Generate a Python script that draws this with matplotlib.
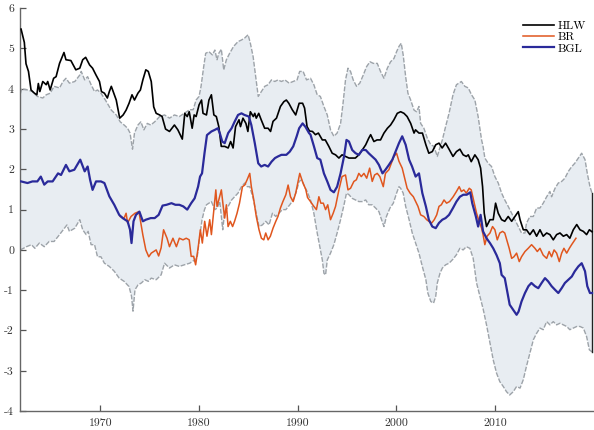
import numpy as np
import matplotlib
matplotlib.use("Agg")
import matplotlib.pyplot as plt

plt.rcParams['font.family'] = ['cmr10', 'DejaVu Serif']
plt.rcParams['mathtext.fontset'] = 'cm'
plt.rcParams['axes.unicode_minus'] = False

# natural rate estimates (percent), read at irregular dates
hlw_t = [1961.95, 1962.28, 1962.45, 1962.7, 1962.96, 1963.3, 1963.55, 1963.7, 1963.85, 1964.15,
         1964.5, 1964.65, 1964.9, 1965.25, 1965.5, 1965.85, 1966.3, 1966.5, 1967.0, 1967.5,
         1967.9, 1968.2, 1968.5, 1968.9, 1969.2, 1969.55, 1969.9, 1970.1, 1970.4, 1970.7,
         1970.9, 1971.1, 1971.35, 1971.6, 1971.95, 1972.3, 1972.6, 1972.9, 1973.2, 1973.45,
         1973.8, 1974.05, 1974.3, 1974.6, 1974.85, 1975.15, 1975.4, 1975.65, 1976.0, 1976.25,
         1976.6, 1977.0, 1977.5, 1977.85, 1978.3, 1978.55, 1978.8, 1979.0, 1979.3, 1979.5,
         1979.7, 1980.0, 1980.25, 1980.4, 1980.75, 1981.0, 1981.25, 1981.5, 1981.75, 1982.0,
         1982.25, 1982.6, 1982.95, 1983.2, 1983.45, 1983.7, 1984.05, 1984.2, 1984.45, 1984.75,
         1984.95, 1985.2, 1985.5, 1985.65, 1985.8, 1986.05, 1986.3, 1986.65, 1987.0, 1987.25,
         1987.5, 1987.85, 1988.25, 1988.6, 1988.85, 1989.1, 1989.45, 1989.8, 1990.15, 1990.5,
         1990.7, 1990.95, 1991.2, 1991.5, 1991.8, 1992.1, 1992.5, 1992.8, 1993.16, 1993.5,
         1993.84, 1994.18, 1994.5, 1994.85, 1995.2, 1995.55, 1995.85, 1996.2, 1996.55, 1996.9,
         1997.2, 1997.4, 1997.73, 1998.05, 1998.4, 1998.75, 1999.1, 1999.42, 1999.76, 2000.1,
         2000.44, 2000.78, 2001.1, 2001.46, 2001.8, 2001.95, 2002.3, 2002.65, 2003.0, 2003.3,
         2003.65, 2004.0, 2004.33, 2004.65, 2005.0, 2005.35, 2005.75, 2006.1, 2006.45, 2006.78,
         2007.1, 2007.3, 2007.6, 2007.97, 2008.3, 2008.55, 2008.75, 2008.92, 2009.15, 2009.5,
         2009.83, 2010.07, 2010.34, 2010.68, 2011.0, 2011.35, 2011.7, 2012.03, 2012.37, 2012.55,
         2012.88, 2013.2, 2013.55, 2013.9, 2014.23, 2014.57, 2014.9, 2015.25, 2015.58, 2015.92,
         2016.26, 2016.6, 2016.94, 2017.28, 2017.6, 2017.95, 2018.3, 2018.63, 2018.97, 2019.3,
         2019.58, 2019.85]
hlw_v = [5.48, 5.15, 4.62, 4.43, 3.97, 3.89, 3.85, 4.13, 3.93, 4.18,
         4.10, 4.18, 3.97, 4.26, 4.30, 4.63, 4.90, 4.72, 4.70, 4.47,
         4.51, 4.72, 4.78, 4.59, 4.51, 4.34, 4.18, 3.93, 3.89, 3.77,
         3.93, 4.06, 3.89, 3.72, 3.27, 3.35, 3.47, 3.64, 3.85, 3.72,
         3.89, 3.97, 4.22, 4.47, 4.43, 4.18, 3.55, 3.39, 3.35, 3.31,
         3.00, 2.94, 3.10, 2.98, 2.75, 3.39, 3.31, 3.43, 3.02, 3.35,
         3.31, 3.60, 3.72, 3.39, 3.35, 3.72, 3.85, 3.35, 3.31, 3.06,
         2.57, 2.57, 2.53, 2.69, 2.53, 3.06, 3.23, 3.06, 3.27, 3.14,
         2.94, 3.43, 3.31, 3.39, 3.27, 3.39, 3.23, 3.02, 3.02, 2.94,
         3.19, 3.27, 3.56, 3.68, 3.72, 3.64, 3.48, 3.35, 3.64, 3.64,
         3.52, 3.06, 2.95, 2.94, 2.86, 2.90, 2.73, 2.73, 2.57, 2.40,
         2.36, 2.28, 2.36, 2.32, 2.28, 2.28, 2.28, 2.36, 2.48, 2.61,
         2.77, 2.86, 2.69, 2.73, 2.73, 2.90, 3.02, 3.10, 3.23, 3.39,
         3.43, 3.39, 3.31, 3.14, 2.90, 2.98, 2.90, 2.90, 2.61, 2.40,
         2.44, 2.61, 2.65, 2.53, 2.65, 2.50, 2.32, 2.44, 2.50, 2.36,
         2.32, 2.36, 2.19, 2.36, 2.24, 2.03, 1.57, 0.91, 0.58, 0.75,
         0.75, 1.16, 0.91, 0.75, 0.71, 0.83, 0.71, 0.83, 0.95, 0.75,
         0.50, 0.50, 0.38, 0.50, 0.34, 0.50, 0.34, 0.42, 0.38, 0.25,
         0.38, 0.42, 0.34, 0.38, 0.29, 0.50, 0.63, 0.50, 0.46, 0.38,
         0.50, 0.45]

br_t = [1972.0, 1972.4, 1972.6, 1972.75, 1973.1, 1973.5, 1973.9, 1974.3, 1974.6, 1974.9,
        1975.15, 1975.4, 1975.65, 1975.9, 1976.15, 1976.4, 1976.75, 1977.0, 1977.35, 1977.7,
        1978.0, 1978.37, 1978.7, 1979.0, 1979.2, 1979.45, 1979.65, 1979.9, 1980.13, 1980.33,
        1980.57, 1980.8, 1981.08, 1981.25, 1981.5, 1981.7, 1981.82, 1982.0, 1982.26, 1982.45,
        1982.6, 1982.77, 1982.94, 1983.17, 1983.4, 1983.6, 1983.85, 1984.1, 1984.4, 1984.63,
        1984.87, 1985.14, 1985.3, 1985.55, 1985.8, 1986.08, 1986.32, 1986.56, 1986.76, 1987.0,
        1987.23, 1987.5, 1987.78, 1988.0, 1988.25, 1988.5, 1988.8, 1989.03, 1989.27, 1989.54,
        1989.8, 1990.04, 1990.21, 1990.48, 1990.82, 1991.0, 1991.3, 1991.64, 1991.9, 1992.15,
        1992.35, 1992.6, 1992.83, 1993.05, 1993.33, 1993.6, 1993.84, 1994.18, 1994.5, 1994.85,
        1995.1, 1995.36, 1995.7, 1995.95, 1996.2, 1996.45, 1996.72, 1997.0, 1997.3, 1997.56,
        1997.8, 1998.07, 1998.33, 1998.68, 1998.9, 1999.25, 1999.5, 1999.76, 2000.03, 2000.27,
        2000.6, 2000.85, 2001.1, 2001.4, 2001.73, 2001.96, 2002.2, 2002.47, 2002.8, 2003.08,
        2003.3, 2003.6, 2003.85, 2004.1, 2004.33, 2004.57, 2004.84, 2005.1, 2005.4, 2005.77,
        2006.1, 2006.38, 2006.6, 2006.85, 2007.1, 2007.4, 2007.6, 2007.87, 2008.14, 2008.4,
        2008.65, 2008.8, 2008.98, 2009.2, 2009.5, 2009.76, 2010.0, 2010.24, 2010.5, 2010.78,
        2011.0, 2011.2, 2011.45, 2011.7, 2011.93, 2012.2, 2012.47, 2012.7, 2013.05, 2013.38,
        2013.72, 2014.06, 2014.3, 2014.57, 2014.9, 2015.25, 2015.5, 2015.75, 2016.0, 2016.26,
        2016.53, 2016.77, 2017.0, 2017.28, 2017.55, 2017.78, 2018.0, 2018.22]
br_v = [0.83, 0.79, 0.91, 0.67, 0.83, 0.91, 0.95, 0.37, 0.00, -0.17,
        -0.08, -0.04, 0.00, -0.15, 0.05, 0.50, 0.29, 0.08, 0.29, 0.08,
        0.29, 0.25, 0.29, 0.25, -0.16, -0.16, -0.37, 0.04, 0.50, 0.17,
        0.71, 0.34, 0.75, 0.38, 1.00, 1.49, 1.08, 1.24, 1.49, 1.08,
        0.79, 1.12, 0.58, 0.71, 0.58, 0.71, 0.91, 1.16, 1.57, 1.61,
        1.74, 1.90, 1.57, 1.24, 0.83, 0.50, 0.29, 0.25, 0.42, 0.25,
        0.34, 0.54, 0.71, 0.83, 1.04, 1.20, 1.37, 1.61, 1.32, 1.20,
        1.41, 1.70, 1.90, 1.70, 1.50, 1.30, 1.20, 1.08, 1.00, 1.32,
        1.16, 1.16, 1.00, 1.12, 0.75, 0.91, 1.08, 1.49, 1.82, 1.86,
        1.49, 1.53, 1.70, 1.74, 1.90, 1.82, 1.90, 1.78, 2.03, 1.70,
        1.86, 1.90, 1.82, 1.57, 1.90, 1.99, 2.15, 2.32, 2.40, 2.20,
        2.03, 1.78, 1.53, 1.41, 1.32, 1.20, 1.08, 0.87, 0.83, 0.75,
        0.71, 0.67, 0.75, 0.87, 1.08, 1.12, 1.24, 1.16, 1.20, 1.32,
        1.45, 1.57, 1.45, 1.49, 1.41, 1.53, 1.49, 1.20, 0.91, 0.71,
        0.54, 0.38, 0.13, 0.34, 0.42, 0.58, 0.50, 0.25, 0.42, 0.46,
        0.42, 0.25, 0.04, -0.21, -0.17, -0.08, -0.29, -0.17, -0.04, 0.04,
        0.13, 0.04, -0.04, 0.04, -0.13, -0.21, -0.04, -0.17, 0.00, -0.08,
        -0.29, -0.08, 0.04, -0.08, 0.04, 0.13, 0.21, 0.29]

bgl_t = [1961.95, 1962.6, 1963.1, 1963.6, 1963.95, 1964.3, 1964.65, 1965.15, 1965.7, 1966.0,
         1966.5, 1966.85, 1967.35, 1967.95, 1968.4, 1968.7, 1968.95, 1969.2, 1969.55, 1970.05,
         1970.4, 1970.9, 1971.4, 1971.9, 1972.25, 1972.75, 1973.0, 1973.15, 1973.35, 1973.6,
         1973.95, 1974.3, 1974.6, 1975.1, 1975.5, 1975.9, 1976.3, 1976.7, 1977.2, 1977.6,
         1978.0, 1978.4, 1978.8, 1979.2, 1979.55, 1979.9, 1980.1, 1980.3, 1980.55, 1980.8,
         1981.25, 1981.6, 1981.9, 1982.1, 1982.35, 1982.6, 1982.95, 1983.3, 1983.6, 1983.95,
         1984.3, 1984.6, 1985.05, 1985.3, 1985.65, 1986.0, 1986.3, 1986.65, 1987.0, 1987.35,
         1987.7, 1988.0, 1988.35, 1988.85, 1989.2, 1989.55, 1989.9, 1990.15, 1990.5, 1990.8,
         1991.15, 1991.3, 1991.65, 1991.98, 1992.3, 1992.66, 1993.0, 1993.33, 1993.67, 1994.0,
         1994.35, 1994.7, 1994.95, 1995.2, 1995.53, 1995.87, 1996.2, 1996.55, 1996.9, 1997.2,
         1997.55, 1997.9, 1998.24, 1998.6, 1998.9, 1999.25, 1999.6, 1999.93, 2000.27, 2000.6,
         2000.95, 2001.3, 2001.6, 2001.96, 2002.3, 2002.64, 2003.0, 2003.3, 2003.65, 2004.0,
         2004.33, 2004.67, 2005.0, 2005.35, 2005.75, 2006.1, 2006.45, 2006.8, 2007.15, 2007.5,
         2007.7, 2008.07, 2008.3, 2008.55, 2008.8, 2009.15, 2009.5, 2009.83, 2010.17, 2010.5,
         2010.68, 2011.0, 2011.25, 2011.5, 2011.86, 2012.2, 2012.4, 2012.7, 2013.05, 2013.4,
         2013.7, 2014.06, 2014.4, 2014.74, 2015.08, 2015.4, 2015.75, 2016.1, 2016.43, 2016.77,
         2017.1, 2017.45, 2017.8, 2018.1, 2018.46, 2018.8, 2019.14, 2019.37, 2019.64, 2019.85]
bgl_v = [1.70, 1.66, 1.70, 1.70, 1.82, 1.62, 1.70, 1.70, 1.90, 1.86,
         2.11, 1.95, 1.99, 2.24, 1.95, 2.07, 1.74, 1.49, 1.70, 1.70,
         1.66, 1.33, 1.12, 0.87, 0.79, 0.71, 0.50, 0.17, 0.71, 0.87,
         0.95, 0.71, 0.75, 0.79, 0.79, 0.87, 1.10, 1.12, 1.16, 1.12,
         1.12, 1.08, 1.00, 1.16, 1.28, 1.57, 1.82, 1.90, 2.40, 2.85,
         2.94, 2.98, 3.02, 2.90, 2.69, 2.65, 2.90, 3.02, 3.18, 3.35,
         3.39, 3.35, 3.31, 3.10, 2.65, 2.15, 2.07, 2.11, 2.07, 2.19,
         2.28, 2.32, 2.36, 2.36, 2.44, 2.57, 2.82, 3.02, 3.14, 3.05,
         2.90, 2.86, 2.57, 2.28, 2.24, 1.90, 1.70, 1.49, 1.43, 1.57,
         1.90, 2.32, 2.73, 2.69, 2.48, 2.40, 2.36, 2.48, 2.48, 2.40,
         2.32, 2.24, 2.11, 1.90, 1.99, 2.11, 2.24, 2.44, 2.65, 2.82,
         2.61, 2.24, 2.07, 1.82, 1.90, 1.41, 1.08, 0.75, 0.58, 0.54,
         0.67, 0.75, 0.79, 0.87, 1.04, 1.20, 1.32, 1.37, 1.37, 1.43,
         1.16, 0.83, 0.58, 0.87, 0.46, 0.29, 0.17, 0.04, -0.13, -0.33,
         -0.62, -0.70, -1.03, -1.36, -1.49, -1.61, -1.53, -1.28, -1.07, -0.90,
         -0.82, -0.90, -0.95, -0.82, -0.70, -0.78, -0.90, -0.99, -1.07, -0.95,
         -0.82, -0.74, -0.66, -0.53, -0.41, -0.33, -0.53, -0.90, -1.07, -1.07]

# range across estimates: upper and lower envelope
upper_t = [1961.88, 1962.0, 1962.6, 1963.1, 1963.6, 1964.15, 1964.5, 1964.9, 1965.3, 1965.85,
           1966.2, 1966.5, 1966.85, 1967.4, 1967.9, 1968.05, 1968.4, 1968.7, 1969.05, 1969.4,
           1969.7, 1970.05, 1970.5, 1971.1, 1971.6, 1972.0, 1972.4, 1972.75, 1973.0, 1973.25,
           1973.45, 1973.8, 1974.1, 1974.4, 1974.75, 1975.1, 1975.5, 1976.0, 1976.5, 1977.0,
           1977.5, 1978.0, 1978.5, 1979.05, 1979.4, 1979.7, 1980.0, 1980.2, 1980.47, 1980.67,
           1981.0, 1981.35, 1981.6, 1981.82, 1982.0, 1982.26, 1982.5, 1982.77, 1983.1, 1983.5,
           1983.95, 1984.3, 1984.63, 1984.97, 1985.2, 1985.48, 1985.7, 1986.0, 1986.32, 1986.66,
           1987.0, 1987.34, 1987.68, 1988.0, 1988.35, 1988.7, 1989.13, 1989.54, 1989.94, 1990.2,
           1990.55, 1990.9, 1991.3, 1991.64, 1991.98, 1992.3, 1992.66, 1993.0, 1993.33, 1993.67,
           1994.0, 1994.35, 1994.6, 1994.85, 1995.1, 1995.36, 1995.63, 1995.97, 1996.3, 1996.65,
           1996.99, 1997.33, 1997.67, 1998.07, 1998.4, 1998.75, 1999.09, 1999.42, 1999.76, 2000.03,
           2000.27, 2000.5, 2000.7, 2000.95, 2001.18, 2001.46, 2001.8, 2002.05, 2002.3, 2002.47,
           2002.8, 2003.15, 2003.5, 2003.82, 2004.16, 2004.35, 2004.67, 2005.0, 2005.35, 2005.75,
           2006.1, 2006.6, 2006.95, 2007.3, 2007.63, 2007.97, 2008.3, 2008.65, 2008.8, 2008.98,
           2009.32, 2009.66, 2010.0, 2010.34, 2010.68, 2011.0, 2011.35, 2011.7, 2012.03, 2012.37,
           2012.7, 2013.05, 2013.2, 2013.55, 2013.9, 2014.23, 2014.57, 2014.9, 2015.25, 2015.58,
           2015.75, 2016.1, 2016.43, 2016.77, 2017.1, 2017.45, 2017.8, 2018.1, 2018.46, 2018.8,
           2019.14, 2019.37, 2019.64, 2019.85]
upper_v = [3.88, 4.00, 3.97, 3.93, 3.81, 3.77, 3.85, 3.89, 4.06, 4.02,
           4.18, 4.26, 4.14, 4.18, 4.34, 4.43, 4.22, 4.30, 4.10, 3.93,
           3.97, 3.89, 3.72, 3.47, 3.35, 3.18, 3.10, 3.02, 2.90, 2.50,
           2.90, 3.10, 3.18, 2.98, 3.14, 3.10, 3.18, 3.31, 3.35, 3.27,
           3.35, 3.31, 3.39, 3.48, 3.48, 3.72, 3.81, 4.06, 4.55, 4.88,
           4.92, 4.84, 4.96, 4.72, 4.88, 4.98, 4.47, 4.72, 4.88, 5.05,
           5.17, 5.21, 5.26, 5.34, 5.13, 4.80, 4.39, 3.81, 3.93, 4.06,
           4.10, 4.22, 4.18, 4.22, 4.18, 4.22, 4.14, 4.18, 4.22, 4.43,
           4.43, 4.22, 4.26, 4.10, 3.85, 3.81, 3.56, 3.35, 2.98, 2.82,
           2.90, 3.14, 3.64, 4.22, 4.51, 4.43, 4.22, 4.06, 4.14, 4.34,
           4.55, 4.67, 4.63, 4.63, 4.43, 4.26, 4.51, 4.67, 4.75, 4.92,
           5.05, 5.13, 4.84, 4.30, 3.89, 3.72, 3.47, 3.43, 3.56, 3.14,
           3.02, 2.77, 2.61, 2.57, 2.32, 2.48, 2.73, 3.06, 3.39, 3.85,
           4.10, 4.18, 4.06, 4.02, 3.85, 3.72, 3.31, 2.73, 2.57, 2.28,
           2.15, 2.07, 1.82, 1.66, 1.41, 1.24, 1.08, 0.91, 0.75, 0.58,
           0.42, 0.42, 0.66, 0.83, 0.83, 1.04, 1.04, 1.16, 1.32, 1.45,
           1.32, 1.53, 1.66, 1.70, 1.78, 1.95, 2.07, 2.15, 2.28, 2.40,
           2.24, 1.90, 1.57, 1.41]

lower_t = [1961.88, 1962.5, 1963.0, 1963.35, 1963.8, 1964.3, 1964.8, 1965.3, 1965.85, 1966.35,
           1966.6, 1966.85, 1967.4, 1967.9, 1968.2, 1968.55, 1968.75, 1969.05, 1969.4, 1969.7,
           1970.05, 1970.4, 1970.9, 1971.4, 1971.9, 1972.4, 1972.9, 1973.15, 1973.3, 1973.5,
           1973.8, 1974.15, 1974.5, 1974.85, 1975.15, 1975.65, 1976.15, 1976.5, 1977.0, 1977.5,
           1978.0, 1978.5, 1979.05, 1979.55, 1979.8, 1980.05, 1980.3, 1980.55, 1980.75, 1981.25,
           1981.6, 1981.85, 1982.1, 1982.4, 1982.6, 1982.95, 1983.3, 1983.6, 1983.95, 1984.3,
           1984.63, 1984.87, 1985.14, 1985.48, 1985.8, 1986.08, 1986.42, 1986.76, 1987.1, 1987.44,
           1987.78, 1988.1, 1988.45, 1988.8, 1989.2, 1989.54, 1989.87, 1990.15, 1990.4, 1990.63,
           1990.96, 1991.3, 1991.64, 1991.98, 1992.3, 1992.5, 1992.66, 1992.83, 1993.0, 1993.33,
           1993.67, 1994.0, 1994.35, 1994.7, 1994.95, 1995.2, 1995.53, 1995.87, 1996.2, 1996.55,
           1996.9, 1997.2, 1997.55, 1997.9, 1998.24, 1998.45, 1998.75, 1999.0, 1999.36, 1999.7,
           2000.03, 2000.27, 2000.44, 2000.7, 2000.95, 2001.3, 2001.62, 2001.96, 2002.3, 2002.64,
           2003.0, 2003.2, 2003.5, 2003.78, 2004.0, 2004.16, 2004.43, 2004.67, 2005.0, 2005.35,
           2005.75, 2006.1, 2006.45, 2006.78, 2007.1, 2007.46, 2007.8, 2008.14, 2008.48, 2008.82,
           2009.15, 2009.5, 2009.83, 2010.17, 2010.5, 2010.85, 2011.18, 2011.5, 2011.86, 2012.2,
           2012.55, 2012.88, 2013.2, 2013.55, 2013.9, 2014.23, 2014.57, 2014.9, 2015.25, 2015.58,
           2015.92, 2016.26, 2016.6, 2016.94, 2017.28, 2017.6, 2017.95, 2018.3, 2018.63, 2018.97,
           2019.3, 2019.58, 2019.85]
lower_v = [0.00, 0.08, 0.13, 0.04, 0.17, 0.08, 0.21, 0.21, 0.38, 0.54,
           0.62, 0.46, 0.54, 0.75, 0.50, 0.38, 0.46, 0.13, 0.13, -0.17,
           -0.17, -0.33, -0.41, -0.53, -0.70, -0.78, -0.91, -1.15, -1.52, -0.99,
           -0.87, -0.82, -0.74, -0.78, -0.70, -0.74, -0.62, -0.33, -0.45, -0.37,
           -0.41, -0.37, -0.33, -0.25, -0.20, 0.30, 0.75, 1.00, 1.12, 1.20,
           1.00, 1.04, 1.20, 0.50, 0.95, 1.08, 1.24, 1.32, 1.41, 1.57,
           1.66, 1.57, 1.57, 1.28, 0.91, 0.58, 0.62, 0.71, 0.62, 0.91,
           0.83, 0.91, 1.00, 1.00, 1.12, 1.24, 1.45, 1.70, 1.74, 1.60,
           1.45, 1.24, 0.91, 0.42, 0.00, -0.25, -0.58, -0.62, -0.25, -0.08,
           0.13, 0.42, 0.75, 1.12, 1.41, 1.37, 1.28, 1.24, 1.20, 1.20,
           1.24, 1.12, 1.12, 1.04, 0.95, 0.79, 0.58, 0.83, 1.04, 1.16,
           1.41, 1.57, 1.53, 1.41, 1.08, 0.75, 0.42, 0.17, -0.08, -0.41,
           -0.74, -1.07, -1.28, -1.32, -1.15, -0.82, -0.58, -0.45, -0.37, -0.33,
           -0.23, -0.12, 0.04, 0.00, 0.08, 0.04, -0.21, -0.82, -1.15, -1.48,
           -1.86, -2.31, -2.73, -3.06, -3.27, -3.39, -3.52, -3.60, -3.52, -3.39,
           -3.43, -3.22, -2.89, -2.56, -2.23, -2.07, -1.94, -1.98, -1.78, -1.86,
           -1.78, -1.86, -1.82, -1.86, -1.90, -1.98, -1.94, -1.90, -1.90, -1.94,
           -2.15, -2.48, -2.53]

year_ticks = [1970, 1980, 1990, 2000, 2010]
y_ticks = [-4, -3, -2, -1, 0, 1, 2, 3, 4, 5, 6]

fig = plt.figure(figsize=(5.94, 4.30), dpi=100)
ax = fig.add_axes([0.033, 0.044, 0.967, 0.937])

band_x = np.r_[upper_t, lower_t[::-1]]
band_y = np.r_[upper_v, lower_v[::-1]]
ax.fill(band_x, band_y, color='#e8edf2', lw=0, zorder=1)
edge = dict(color='#9da3a9', lw=1.0, ls=(0, (3.5, 1.2)), zorder=2)
ax.plot(upper_t, upper_v, **edge)
ax.plot(lower_t, lower_v, **edge)
ax.plot([upper_t[-1], lower_t[-1]], [upper_v[-1], lower_v[-1]], color='#222222', lw=1.0, zorder=2)

ax.plot(hlw_t, hlw_v, color='black', lw=1.2, label='HLW', zorder=3)
ax.plot(br_t, br_v, color='#e0561e', lw=1.1, label='BR', zorder=4)
ax.plot(bgl_t, bgl_v, color='#2a2a9a', lw=1.6, label='BGL', zorder=5)

ax.set_xlim(1961.8, 2020.05)
ax.set_ylim(-4, 6)
ax.set_xticks(year_ticks)
ax.set_yticks(y_ticks)
ax.set_xticklabels([str(t) for t in year_ticks])
ax.set_yticklabels([str(t) for t in y_ticks])

for side in ['top', 'right']:
    ax.spines[side].set_visible(False)
for side in ['left', 'bottom']:
    ax.spines[side].set_color('#666666')
    ax.spines[side].set_linewidth(1.0)
ax.tick_params(direction='in', length=4, width=0.9, color='#555555',
               labelsize=8.5, labelcolor='#333333')
ax.tick_params(axis='y', pad=4)
ax.tick_params(axis='x', pad=5)

leg = ax.legend(loc='upper right', bbox_to_anchor=(1.0, 0.99), frameon=False,
                fontsize=8.5, handlelength=2.6, handletextpad=0.3, labelspacing=0.1,
                borderaxespad=0.3)

fig.savefig('out.png', dpi=100)
